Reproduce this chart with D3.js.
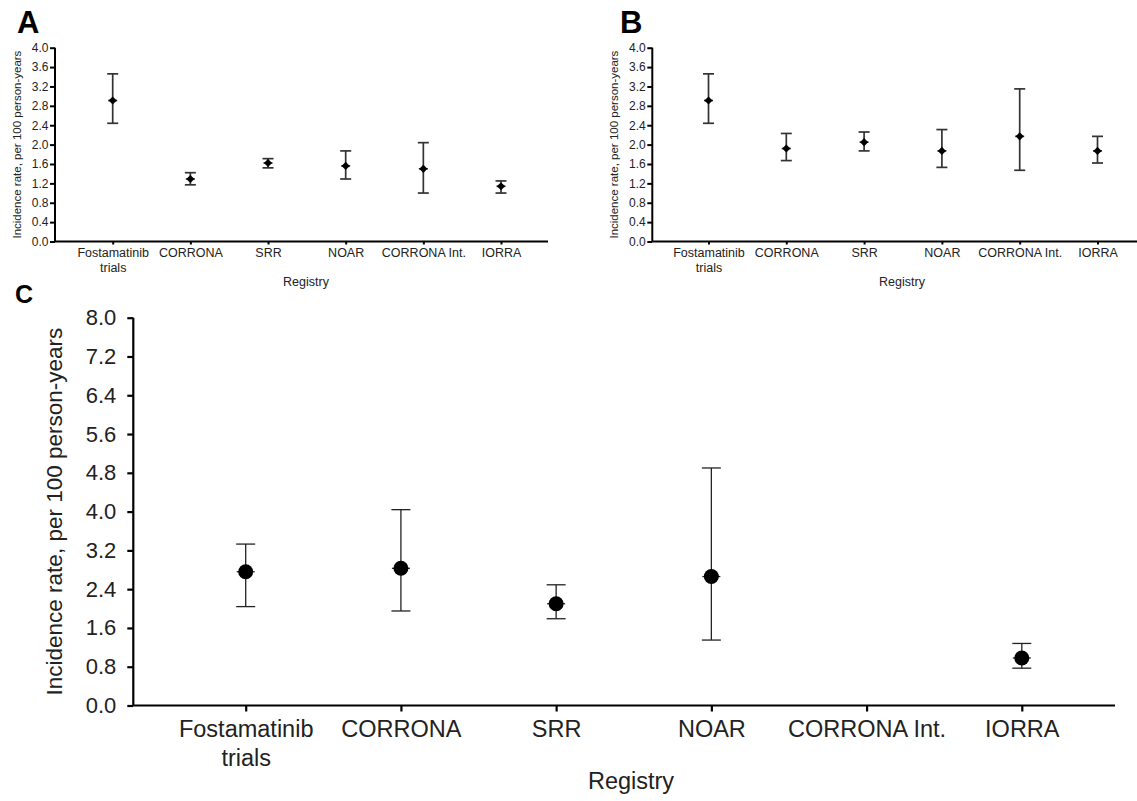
<!DOCTYPE html>
<html>
<head>
<meta charset="utf-8">
<script src="https://cdn.jsdelivr.net/npm/d3@7"></script>
<style>
  body { margin: 0; background: #fff; }
</style>
</head>
<body>
<script>
// registries on the x axis (line break inside the first label)
var registries = ["Fostamatinib\ntrials", "CORRONA", "SRR", "NOAR", "CORRONA Int.", "IORRA"];

// panel A
var rateA  = [2.91, 1.29, 1.62, 1.56, 1.50, 1.14];
var lowerA = [2.44, 1.17, 1.52, 1.29, 1.00, 1.00];
var upperA = [3.46, 1.42, 1.71, 1.87, 2.04, 1.25];

// panel B
var rateB  = [2.91, 1.92, 2.05, 1.87, 2.17, 1.87];
var lowerB = [2.44, 1.67, 1.87, 1.53, 1.47, 1.62];
var upperB = [3.46, 2.23, 2.26, 2.31, 3.15, 2.17];

// panel C (no estimate for CORRONA Int.)
var rateC  = [2.76, 2.83, 2.10, 2.66, null, 0.98];
var lowerC = [2.04, 1.95, 1.79, 1.35, null, 0.77];
var upperC = [3.33, 4.04, 2.49, 4.90, null, 1.28];

var ticksAB = [0, 0.4, 0.8, 1.2, 1.6, 2.0, 2.4, 2.8, 3.2, 3.6, 4.0];
var ticksC  = [0, 0.8, 1.6, 2.4, 3.2, 4.0, 4.8, 5.6, 6.4, 7.2, 8.0];

var yTitle = "Incidence rate, per 100 person-years";
var xTitle = "Registry";

var font = "Arial, 'Liberation Sans', sans-serif";

var svg = d3.select("body").append("svg")
    .attr("width", 1137)
    .attr("height", 801)
    .style("display", "block");

svg.append("rect").attr("width", 1137).attr("height", 801).attr("fill", "#fff");

function drawPanel(p, rate, lower, upper) {
  var g = svg.append("g");

  var y = d3.scaleLinear().domain([0, p.yMax]).range([p.yBottom, p.yTop]);
  var x = d3.scalePoint().domain(registries).range([p.xFirst, p.xLast]);

  // panel letter
  g.append("text")
      .attr("x", p.letterX)
      .attr("y", p.letterY)
      .attr("font-family", font)
      .attr("font-weight", "bold")
      .attr("font-size", p.letterSize)
      .attr("fill", "#000")
      .text(p.letter);

  // y axis
  var yAxis = g.append("g")
      .attr("transform", "translate(" + p.axisX + ",0)")
      .call(d3.axisLeft(y)
        .tickValues(p.ticks)
        .tickFormat(d3.format(".1f"))
        .tickSize(p.tickSize)
        .tickPadding(p.tickPad)
        .tickSizeOuter(0));
  yAxis.select(".domain").remove();
  yAxis.selectAll(".tick line").attr("stroke", "#000").attr("stroke-width", p.axisW);
  yAxis.selectAll(".tick text")
      .attr("font-family", font)
      .attr("font-size", p.tickFont)
      .attr("fill", "#222");

  // x axis
  var xAxis = g.append("g")
      .attr("transform", "translate(0," + p.yBottom + ")")
      .call(d3.axisBottom(x).tickSize(p.xTickSize).tickSizeOuter(0));
  xAxis.select(".domain").remove();
  xAxis.selectAll(".tick line").attr("stroke", "#000").attr("stroke-width", p.axisW);
  xAxis.selectAll(".tick text").each(function(d) {
    var t = d3.select(this)
        .attr("y", null).attr("dy", null)
        .attr("font-family", font)
        .attr("font-size", p.labelFont)
        .attr("fill", "#222")
        .text(null);
    d.split("\n").forEach(function(line, i) {
      t.append("tspan").attr("x", 0).attr("y", p.labelBase + i * p.lineH).text(line);
    });
  });

  // axis lines
  g.append("line")
      .attr("x1", p.axisX).attr("x2", p.axisX)
      .attr("y1", p.yTop).attr("y2", p.yBottom)
      .attr("stroke", "#000").attr("stroke-width", p.axisW);
  g.append("line")
      .attr("x1", p.axisX).attr("x2", p.xEnd)
      .attr("y1", p.yBottom).attr("y2", p.yBottom)
      .attr("stroke", "#000").attr("stroke-width", p.axisW);

  // axis titles
  g.append("text")
      .attr("transform", "translate(" + p.titleX + "," + ((p.yTop + p.yBottom) / 2) + ") rotate(-90)")
      .attr("text-anchor", "middle")
      .attr("font-family", font)
      .attr("font-size", p.titleFont)
      .attr("fill", "#222")
      .text(yTitle);
  g.append("text")
      .attr("x", p.xTitleX)
      .attr("y", p.xTitleY)
      .attr("text-anchor", "middle")
      .attr("font-family", font)
      .attr("font-size", p.xTitleFont)
      .attr("fill", "#222")
      .text(xTitle);

  var pts = registries.map(function(r, i) {
    return { r: r, v: rate[i], lo: lower[i], hi: upper[i] };
  }).filter(function(d) { return d.v != null; });

  var bars = g.append("g").attr("stroke", p.barColor).attr("stroke-width", p.barW);

  // whiskers
  bars.selectAll(".whisker").data(pts).enter().append("line")
      .attr("x1", function(d) { return x(d.r); })
      .attr("x2", function(d) { return x(d.r); })
      .attr("y1", function(d) { return y(d.lo); })
      .attr("y2", function(d) { return y(d.hi); });

  // caps
  ["lo", "hi"].forEach(function(k) {
    bars.selectAll(".cap-" + k).data(pts).enter().append("line")
        .attr("x1", function(d) { return x(d.r) - p.cap / 2; })
        .attr("x2", function(d) { return x(d.r) + p.cap / 2; })
        .attr("y1", function(d) { return y(d[k]); })
        .attr("y2", function(d) { return y(d[k]); });
  });

  // short tick through the point
  bars.selectAll(".mid").data(pts).enter().append("line")
      .attr("x1", function(d) { return x(d.r) - p.midW / 2; })
      .attr("x2", function(d) { return x(d.r) + p.midW / 2; })
      .attr("y1", function(d) { return y(d.v); })
      .attr("y2", function(d) { return y(d.v); });

  // markers
  if (p.marker === "diamond") {
    g.selectAll(".pt").data(pts).enter().append("path")
        .attr("d", d3.symbol().type(d3.symbolSquare).size(p.markerSize))
        .attr("transform", function(d) {
          return "translate(" + x(d.r) + "," + y(d.v) + ") rotate(45)";
        })
        .attr("fill", "#000");
  } else {
    g.selectAll(".pt").data(pts).enter().append("circle")
        .attr("cx", function(d) { return x(d.r); })
        .attr("cy", function(d) { return y(d.v); })
        .attr("r", p.markerR)
        .attr("fill", "#000");
  }
}

var small = {
  yTop: 47.7, yBottom: 241.5, yMax: 4, ticks: ticksAB,
  tickSize: 5, tickPad: 1.5, xTickSize: 3, axisW: 2,
  tickFont: 12, labelFont: 12.5, labelBase: 15.8, lineH: 14.4,
  titleFont: 11.5, xTitleFont: 12.5, xTitleY: 285.5,
  letterY: 33, letterSize: 31,
  marker: "diamond", markerSize: 33, cap: 11, midW: 9, barW: 1.7, barColor: "#333"
};

drawPanel(Object.assign({}, small, {
  letter: "A", letterX: 17, axisX: 55, xFirst: 112.7, xLast: 501, xEnd: 548,
  titleX: 20.5, xTitleX: 306
}), rateA, lowerA, upperA);

drawPanel(Object.assign({}, small, {
  letter: "B", letterX: 620, axisX: 652.3, xFirst: 708.5, xLast: 1097.5, xEnd: 1145,
  titleX: 618, xTitleX: 902
}), rateB, lowerB, upperB);

drawPanel({
  letter: "C", letterX: 15, letterY: 302.7, letterSize: 25,
  axisX: 133.3, yTop: 317.7, yBottom: 705.5, yMax: 8, ticks: ticksC,
  xFirst: 245.7, xLast: 1021.8, xEnd: 1115,
  tickSize: 6, tickPad: 11, xTickSize: 6, axisW: 2.2,
  tickFont: 22, labelFont: 23.5, labelBase: 31, lineH: 29.5,
  titleFont: 22.5, titleX: 61.5, xTitleFont: 23.5, xTitleX: 631, xTitleY: 789,
  marker: "circle", markerR: 7.5, cap: 19, midW: 18, barW: 1.3, barColor: "#222"
}, rateC, lowerC, upperC);
</script>
</body>
</html>
